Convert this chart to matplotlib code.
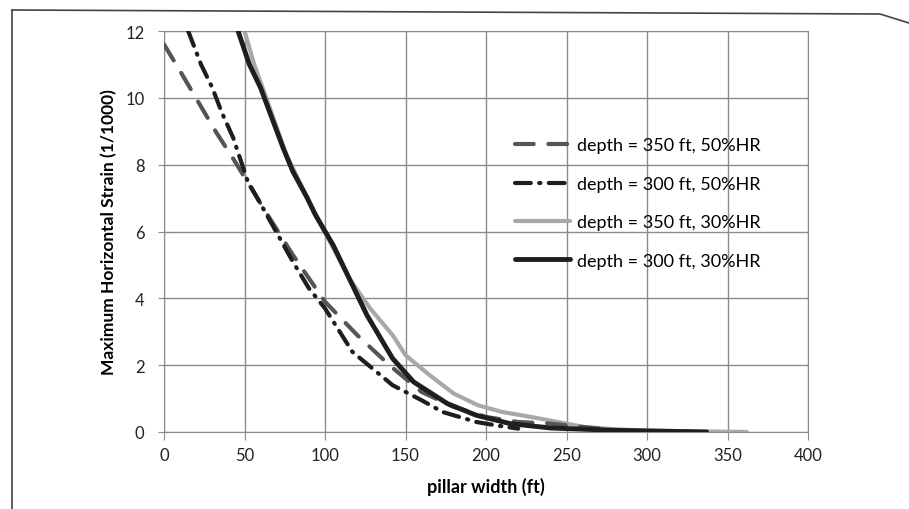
import matplotlib
matplotlib.use("Agg")
import matplotlib.pyplot as plt
from matplotlib.lines import Line2D

# curves (pillar width in ft, strain in 1/1000)
x_350_50 = [0, 10, 21, 32, 44, 63, 80, 100, 120, 140, 160, 180, 200, 220, 240, 260, 280, 297]
y_350_50 = [11.6, 10.8, 9.9, 9.0, 8.1, 6.6, 5.3, 3.9, 2.9, 2.0, 1.2, 0.75, 0.45, 0.3, 0.25, 0.15, 0.06, 0.0]

x_300_50 = [15, 23, 30, 36, 43, 52, 58, 80, 90, 100, 117, 142, 160, 173, 194, 206, 220]
y_300_50 = [12, 11.0, 10.3, 9.55, 8.8, 7.5, 7.0, 5.1, 4.3, 3.7, 2.4, 1.4, 0.95, 0.6, 0.3, 0.2, 0.1]

x_350_30 = [50, 56, 62, 76, 90, 103, 115, 128, 142, 150, 165, 180, 195, 210, 228, 250, 261, 280, 300, 330, 362]
y_350_30 = [12, 11.0, 10.2, 8.3, 6.9, 5.7, 4.6, 3.7, 2.9, 2.3, 1.7, 1.15, 0.8, 0.6, 0.45, 0.25, 0.15, 0.08, 0.04, 0.02, 0.0]

x_300_30 = [46, 53, 60, 74, 80, 89, 94, 105, 116, 126, 142, 155, 176, 194, 215, 240, 280, 337]
y_300_30 = [12, 11.0, 10.3, 8.5, 7.8, 7.0, 6.5, 5.6, 4.5, 3.5, 2.2, 1.5, 0.85, 0.5, 0.25, 0.12, 0.05, 0.0]

labels = ["depth = 350 ft, 50%HR", "depth = 300 ft, 50%HR",
          "depth = 350 ft, 30%HR", "depth = 300 ft, 30%HR"]

plt.rcParams['font.family'] = ['Lato', 'DejaVu Sans']

fig = plt.figure(figsize=(9.09, 5.10), dpi=100)
ax = fig.add_axes([164 / 909, 1 - 433 / 510, 644 / 909, 401 / 510])

ax.plot(x_350_50, y_350_50, color='#555555', lw=3, dashes=(4.5, 3.5),
        dash_capstyle='round', label=labels[0], zorder=3)
ax.plot(x_300_50, y_300_50, color='#1e1e1e', lw=3, dashes=(3.8, 2.0, 0.3, 2.0),
        dash_capstyle='round', label=labels[1], zorder=4)
ax.plot(x_350_30, y_350_30, color='#a8a8a8', lw=3, solid_capstyle='round',
        label=labels[2], zorder=2)
ax.plot(x_300_30, y_300_30, color='#1e1e1e', lw=3.5, solid_capstyle='round',
        label=labels[3], zorder=3)

ax.set_xlim(0, 400)
ax.set_ylim(0, 12)
ax.set_xticks(range(0, 401, 50))
ax.set_yticks(range(0, 13, 2))
ax.grid(True, color='#8c8c8c', lw=1)
ax.set_axisbelow(True)
for s in ax.spines.values():
    s.set_color('#8c8c8c')
ax.tick_params(axis='both', colors='#8c8c8c', labelcolor='#222222', labelsize=12)
ax.tick_params(axis='y', direction='inout', length=8, pad=10)
ax.tick_params(axis='x', direction='out', length=6, pad=5)

ax.set_xlabel("pillar width (ft)", fontsize=13, fontweight='bold', labelpad=10)
ax.set_ylabel("Maximum Horizontal Strain (1/1000)", fontsize=12.5,
              fontweight='bold', labelpad=6)

ax.legend(loc='upper left', bbox_to_anchor=(0.52, 0.775), frameon=False,
          fontsize=13, handlelength=3.05, handletextpad=0.4, labelspacing=1.24)

# border of the scanned page
fig.add_artist(Line2D([12 / 909, 12 / 909], [0, 1 - 11 / 510],
                      transform=fig.transFigure, color='#444444', lw=1.2))
fig.add_artist(Line2D([12 / 909, 880 / 909, 909 / 909],
                      [1 - 11 / 510, 1 - 15 / 510, 1 - 24 / 510],
                      transform=fig.transFigure, color='#444444', lw=1.2))

fig.savefig("out.png", dpi=100)
